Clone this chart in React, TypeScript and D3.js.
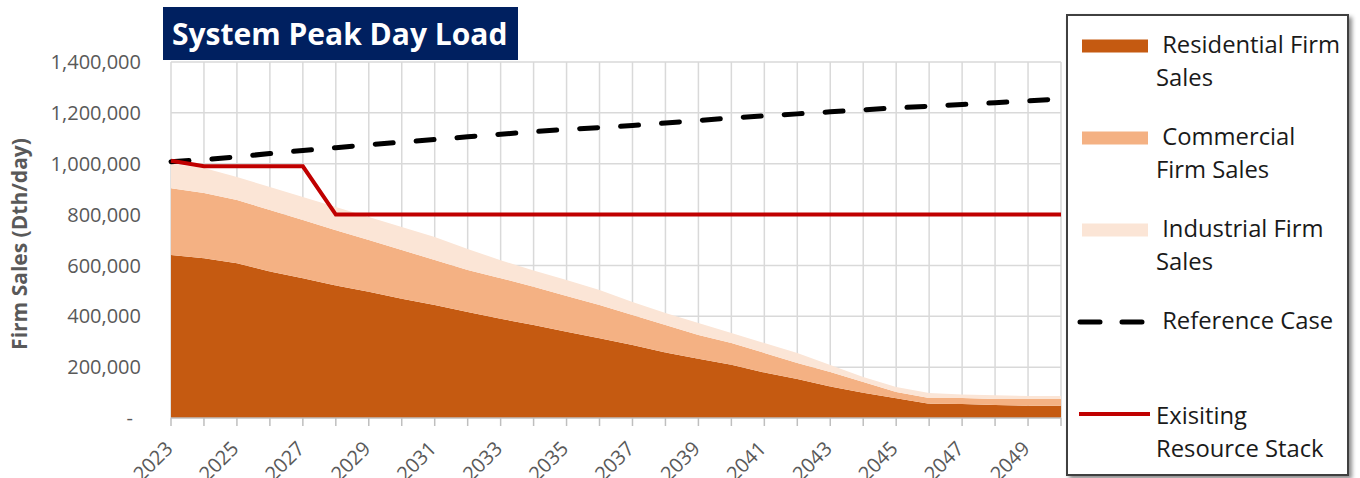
import React, { useEffect, useRef } from 'react';
import * as d3 from 'd3';

// values in Dth/day
const years = [2023, 2024, 2025, 2026, 2027, 2028, 2029, 2030, 2031, 2032, 2033, 2034, 2035, 2036,
  2037, 2038, 2039, 2040, 2041, 2042, 2043, 2044, 2045, 2046, 2047, 2048, 2049, 2050];
const residential = [641000, 628000, 609000, 576000, 550000, 521000, 496000, 469000, 444000, 417000,
  390000, 366000, 339000, 314000, 287000, 258000, 233000, 209000, 179000, 153000, 124000, 99000,
  78000, 56000, 55000, 51000, 48000, 48000];
const commercial = [263000, 257000, 248000, 242000, 229000, 217000, 204000, 192000, 177000, 165000,
  160000, 150000, 141000, 130000, 118000, 108000, 93000, 86000, 77000, 63000, 57000, 43000, 24000,
  23000, 24000, 24000, 27000, 27000];
const industrial = [96000, 98000, 91000, 90000, 90000, 92000, 90000, 90000, 91000, 83000, 70000,
  64000, 63000, 59000, 51000, 47000, 48000, 39000, 39000, 40000, 27000, 19000, 20000, 19000, 13000,
  14000, 12000, 12000];
const referenceCase = [1008000, 1016000, 1027000, 1040000, 1052000, 1063000, 1075000, 1085000,
  1095000, 1106000, 1116000, 1126000, 1135000, 1142000, 1150000, 1160000, 1170000, 1180000, 1188000,
  1196000, 1204000, 1212000, 1220000, 1226000, 1233000, 1240000, 1247000, 1255000];
const existingStack = [1012000, 990000, 990000, 990000, 990000, 800000, 800000, 800000, 800000,
  800000, 800000, 800000, 800000, 800000, 800000, 800000, 800000, 800000, 800000, 800000, 800000,
  800000, 800000, 800000, 800000, 800000, 800000, 800000];

const yTicks = [0, 200000, 400000, 600000, 800000, 1000000, 1200000, 1400000];
const xLabelYears = [2023, 2025, 2027, 2029, 2031, 2033, 2035, 2037, 2039, 2041, 2043, 2045, 2047, 2049];

const seriesKeys = ['residential', 'commercial', 'industrial'];
const legendLabels = [
  [' Residential Firm', 'Sales'],
  [' Commercial', 'Firm Sales'],
  [' Industrial Firm', 'Sales'],
  [' Reference Case'],
  ['Exisiting', 'Resource Stack'],
];

const title = 'System Peak Day Load';
const yTitle = 'Firm Sales (Dth/day)';

const colors: Record<string, string> = {
  residential: '#c55a11',
  commercial: '#f4b183',
  industrial: '#fbe5d6',
  reference: '#000000',
  existing: '#c00000',
};

function drawChart(node: SVGSVGElement) {
  const svg = d3.select(node);
  svg.selectAll('*').remove();

  const W = 1360;
  const H = 478;
  const font = "'Open Sans', sans-serif";
  const grey = '#595959';

  svg.attr('width', W).attr('height', H);

  const x = d3.scaleLinear().domain([2023, 2050]).range([171, 1061]);
  const y = d3.scaleLinear().domain([0, 1400000]).range([418, 62]);

  const rows = years.map((yr, i) => ({
    year: yr,
    residential: residential[i],
    commercial: commercial[i],
    industrial: industrial[i],
  }));

  // grid
  const grid = svg.append('g').attr('stroke', '#d9d9d9').attr('stroke-width', 1.5);
  grid.selectAll('line.v')
    .data(years)
    .join('line')
    .attr('class', 'v')
    .attr('x1', (d) => x(d)).attr('x2', (d) => x(d))
    .attr('y1', y(1400000)).attr('y2', y(0));
  grid.selectAll('line.h')
    .data(yTicks.slice(1))
    .join('line')
    .attr('class', 'h')
    .attr('x1', x(2023)).attr('x2', x(2050))
    .attr('y1', (d) => y(d)).attr('y2', (d) => y(d));

  // stacked areas
  const stack = d3.stack<any>().keys(seriesKeys);
  const layers = stack(rows);
  const area = d3.area<any>()
    .x((d) => x(d.data.year))
    .y0((d) => y(d[0]))
    .y1((d) => y(d[1]));
  svg.append('g')
    .selectAll('path')
    .data(layers)
    .join('path')
    .attr('d', (d: any) => area(d))
    .attr('fill', (d: any) => colors[d.key]);

  // x axis
  const xAxis = svg.append('g').attr('stroke', '#bfbfbf').attr('stroke-width', 1.5);
  xAxis.append('line')
    .attr('x1', x(2023)).attr('x2', x(2050))
    .attr('y1', y(0)).attr('y2', y(0));
  xAxis.selectAll('line.tick')
    .data(years)
    .join('line')
    .attr('class', 'tick')
    .attr('x1', (d) => x(d)).attr('x2', (d) => x(d))
    .attr('y1', y(0)).attr('y2', y(0) + 8);

  svg.append('g')
    .selectAll('text')
    .data(xLabelYears)
    .join('text')
    .attr('transform', (d) => `translate(${x(d) + 3},${y(0) + 32}) rotate(-45)`)
    .attr('text-anchor', 'end')
    .attr('font-family', font)
    .attr('font-size', 20)
    .attr('fill', grey)
    .text((d) => d);

  // y labels
  const fmt = d3.format(',');
  svg.append('g')
    .selectAll('text')
    .data(yTicks)
    .join('text')
    .attr('x', (d) => (d === 0 ? 133 : 141))
    .attr('y', (d) => y(d))
    .attr('dy', '0.36em')
    .attr('text-anchor', 'end')
    .attr('font-family', font)
    .attr('font-size', 20)
    .attr('fill', grey)
    .text((d) => (d === 0 ? '-' : fmt(d)));

  svg.append('text')
    .attr('transform', `translate(27,${(y(0) + y(1400000)) / 2 + 4}) rotate(-90)`)
    .attr('text-anchor', 'middle')
    .attr('font-family', font)
    .attr('font-size', 21)
    .attr('font-weight', 'bold')
    .attr('fill', grey)
    .text(yTitle);

  // lines
  const line = d3.line<number>()
    .x((_, i) => x(years[i]))
    .y((d) => y(d));

  svg.append('path')
    .attr('d', line(referenceCase))
    .attr('fill', 'none')
    .attr('stroke', colors.reference)
    .attr('stroke-width', 5)
    .attr('stroke-linecap', 'round')
    .attr('stroke-dasharray', '18 23');

  svg.append('path')
    .attr('d', line(existingStack))
    .attr('fill', 'none')
    .attr('stroke', colors.existing)
    .attr('stroke-width', 4)
    .attr('stroke-linejoin', 'miter');

  // title box
  svg.append('rect')
    .attr('x', 163).attr('y', 7)
    .attr('width', 355).attr('height', 53)
    .attr('fill', '#002060');
  svg.append('text')
    .attr('x', 172).attr('y', 45)
    .attr('font-family', font)
    .attr('font-size', 30)
    .attr('font-weight', 'bold')
    .attr('fill', '#ffffff')
    .text(title);

  // legend
  const defs = svg.append('defs');
  const f = defs.append('filter').attr('id', 'lgshadow')
    .attr('x', '-5%').attr('y', '-5%').attr('width', '115%').attr('height', '115%');
  f.append('feDropShadow')
    .attr('dx', 3).attr('dy', 3).attr('stdDeviation', 2)
    .attr('flood-color', '#000').attr('flood-opacity', 0.45);

  const lg = svg.append('g');
  lg.append('rect')
    .attr('x', 1067).attr('y', 15)
    .attr('width', 281).attr('height', 460)
    .attr('fill', '#ffffff')
    .attr('stroke', '#404040')
    .attr('stroke-width', 2)
    .attr('filter', 'url(#lgshadow)');

  const step = 92;
  const top = 46;
  legendLabels.forEach((lines, i) => {
    const cy = top + i * step;
    if (i < 3) {
      lg.append('rect')
        .attr('x', 1082).attr('y', cy - 6.5)
        .attr('width', 66).attr('height', 13)
        .attr('fill', colors[seriesKeys[i]]);
    } else if (i === 3) {
      lg.append('line')
        .attr('x1', 1080).attr('x2', 1142)
        .attr('y1', cy).attr('y2', cy)
        .attr('stroke', colors.reference)
        .attr('stroke-width', 5)
        .attr('stroke-linecap', 'round')
        .attr('stroke-dasharray', '20 22');
    } else {
      lg.append('line')
        .attr('x1', 1079).attr('x2', 1150)
        .attr('y1', cy).attr('y2', cy)
        .attr('stroke', colors.existing)
        .attr('stroke-width', 4);
    }
    const base = i === 4 ? cy + 10 : cy + 7;
    lines.forEach((t, j) => {
      lg.append('text')
        .attr('x', j === 0 && i !== 4 ? 1156 : 1156)
        .attr('y', base + j * 33)
        .attr('font-family', font)
        .attr('font-size', 23.8)
        .attr('fill', '#1a1a1a')
        .attr('xml:space', 'preserve')
        .style('white-space', 'pre')
        .text(t);
    });
  });
}

export default function App() {
  const ref = useRef<SVGSVGElement>(null);

  useEffect(() => {
    if (ref.current) drawChart(ref.current);
  }, []);

  return (
    <div style={{ position: 'absolute', left: 0, top: 0 }}>
      <svg ref={ref} style={{ display: 'block' }} />
    </div>
  );
}
